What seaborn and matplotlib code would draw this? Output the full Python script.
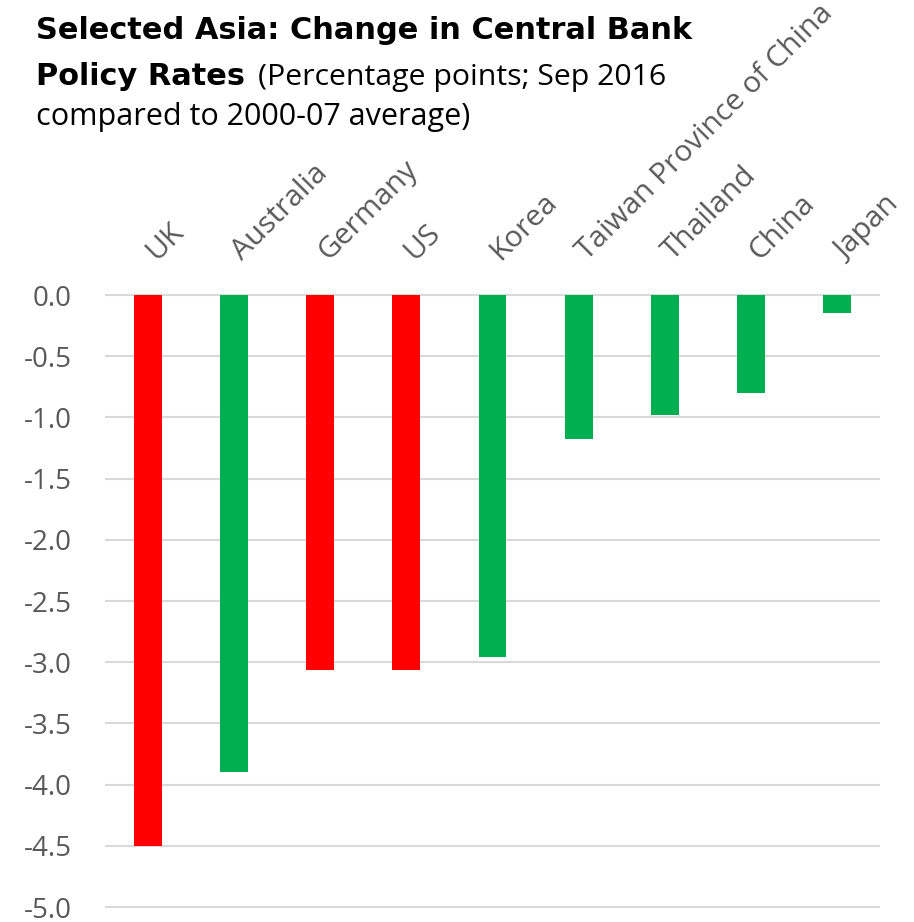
import matplotlib
matplotlib.use("Agg")
import matplotlib.pyplot as plt
import matplotlib.transforms as mtransforms
import seaborn as sns
import pandas as pd

# Change in central bank policy rates, Sep 2016 vs 2000-07 average (percentage points)
countries = ["UK", "Australia", "Germany", "US", "Korea",
             "Taiwan Province of China", "Thailand", "China", "Japan"]
changes = [-4.50, -3.90, -3.06, -3.06, -2.96, -1.18, -0.98, -0.80, -0.15]
groups = ["Advanced", "Asia", "Advanced", "Advanced", "Asia",
          "Asia", "Asia", "Asia", "Asia"]
y_ticks = [0.0, -0.5, -1.0, -1.5, -2.0, -2.5, -3.0, -3.5, -4.0, -4.5, -5.0]

group_colors = {"Advanced": "#FF0000", "Asia": "#00B050"}
bar_colors = [group_colors[g] for g in groups]

df = pd.DataFrame({"country": countries, "change": changes})

sns.set_theme(style="white")
plt.rcParams["font.family"] = ["Open Sans", "DejaVu Sans"]

W, H = 914, 922
fig = plt.figure(figsize=(W / 100, H / 100), dpi=100)

y_lo, y_hi = -5.02, 0.02
px_per_unit = (907 - 295) / 5.0
top_px = 295 - (y_hi - 0) * px_per_unit
bot_px = 907 + (-5.0 - y_lo) * px_per_unit
ax = fig.add_axes([105 / W, 1 - bot_px / H, 775 / W, (bot_px - top_px) / H])

sns.barplot(data=df, x="country", y="change", hue="country",
            palette=bar_colors, legend=False, width=0.325,
            saturation=1, linewidth=0, ax=ax, zorder=3)

ax.set_ylim(y_lo, y_hi)
ax.set_xlim(-0.5, len(countries) - 0.5)
ax.set_yticks(y_ticks)
ax.set_yticklabels([f"{v:.1f}" for v in y_ticks])
ax.yaxis.grid(True, color="#D9D9D9", linewidth=1.5, zorder=0)
ax.xaxis.grid(False)
ax.set_axisbelow(True)
for s in ax.spines.values():
    s.set_visible(False)
ax.set_xlabel("")
ax.set_ylabel("")

ax.tick_params(axis="y", length=0, pad=24, labelsize=20, labelcolor="#595959")
ax.xaxis.tick_top()
ax.tick_params(axis="x", length=0, pad=19, labelsize=21.5, labelcolor="#595959")
offset = mtransforms.ScaledTranslation(13 / 100, 0, fig.dpi_scale_trans)
for lbl in ax.get_xticklabels():
    lbl.set_rotation(45)
    lbl.set_ha("left")
    lbl.set_va("bottom")
    lbl.set_rotation_mode("anchor")
    lbl.set_transform(lbl.get_transform() + offset)

# Title block
renderer = fig.canvas.get_renderer()


def fit_text(x_px, y_px, s, width_px, size, **kw):
    t = fig.text(x_px / W, 1 - y_px / H, s, fontsize=size, va="baseline", **kw)
    w = t.get_window_extent(renderer).width
    t.set_fontsize(size * width_px / w)
    return t


bold_kw = dict(fontweight="bold", color="black", family=["DejaVu Sans"])
t1 = fit_text(36, 39, "Selected Asia: Change in Central Bank", 659, 18, **bold_kw)
t2 = fig.text(36 / W, 1 - 85 / H, "Policy Rates", va="baseline", **bold_kw)
t2.set_fontsize(t1.get_fontsize())
fit_text(258, 85, "(Percentage points; Sep 2016", 407, 20, color="black")
fit_text(36, 125, "compared to 2000-07 average)", 434, 20, color="black")

fig.savefig("out.png", dpi=100)
